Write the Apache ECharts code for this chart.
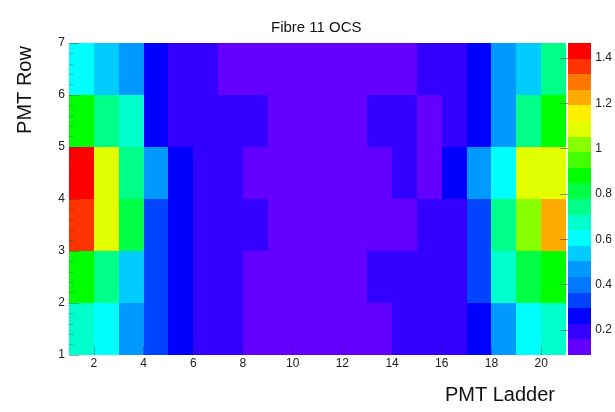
<!DOCTYPE html>
<html>
<head>
<meta charset="utf-8">
<script src="https://cdn.jsdelivr.net/npm/echarts@6/dist/echarts.min.js"></script>
<style>
  html, body { margin: 0; padding: 0; background: #ffffff; }
  #chart { width: 615px; height: 412px; }
</style>
</head>
<body>
<div id="chart"></div>
<script>
// ---- data ----
const ladders = [1,2,3,4,5,6,7,8,9,10,11,12,13,14,15,16,17,18,19,20];   // x bin low edges
const rows = [1,2,3,4,5,6];                                              // y bin low edges
const row1 = [0.67,0.61,0.47,0.33,0.26,0.19,0.19,0.12,0.12,0.12,0.12,0.12,0.12,0.19,0.19,0.19,0.26,0.47,0.61,0.67];
const row2 = [0.88,0.74,0.54,0.33,0.26,0.19,0.19,0.12,0.12,0.12,0.12,0.12,0.19,0.19,0.19,0.19,0.33,0.67,0.81,0.88];
const row3 = [1.36,1.09,0.81,0.33,0.26,0.19,0.19,0.19,0.12,0.12,0.12,0.12,0.12,0.12,0.19,0.19,0.33,0.74,1.02,1.23];
const row4 = [1.43,1.09,0.74,0.47,0.26,0.19,0.19,0.12,0.12,0.12,0.12,0.12,0.12,0.19,0.12,0.26,0.47,0.61,1.09,1.09];
const row5 = [0.88,0.74,0.67,0.26,0.19,0.19,0.19,0.19,0.12,0.12,0.12,0.12,0.19,0.19,0.12,0.19,0.26,0.47,0.74,0.88];
const row6 = [0.61,0.54,0.47,0.26,0.19,0.19,0.12,0.12,0.12,0.12,0.12,0.12,0.12,0.12,0.19,0.19,0.26,0.47,0.54,0.74];
const xTickLabels = [2,4,6,8,10,12,14,16,18,20];
const zTickLabels = [0.2,0.4,0.6,0.8,1.0,1.2,1.4];
const zMin = 0.09, zMax = 1.466, nLevels = 20;
const palette = ['#6400ff','#3300ff','#0000ff','#0044ff','#0077ff','#0099ff','#00ccff','#00ffff','#00ffcc','#00ff88',
                 '#00ff44','#00ff00','#44ff00','#88ff00','#e2ff00','#ffee00','#ffaa00','#ff7700','#ff3300','#ff0000'];

// ---- build ----
const allRows = [row1,row2,row3,row4,row5,row6];
const cells = [];
rows.forEach((r, j) => ladders.forEach((l, i) => cells.push([l, r, allRows[j][i]])));
const step = (zMax - zMin) / nLevels;
const pieces = [];
const bands = [];
for (let k = 0; k < nLevels; k++) {
  const lo = zMin + k * step, hi = zMin + (k + 1) * step;
  pieces.push(k === nLevels - 1 ? {gte: lo, lte: hi + 1, color: palette[k]} : {gte: lo, lt: hi, color: palette[k]});
  bands.push([lo, hi]);
}

const FONT = '"Liberation Sans", Arial, sans-serif';
const chart = echarts.init(document.getElementById('chart'), null, {renderer: 'canvas'});
chart.setOption({
  animation: false,
  backgroundColor: '#ffffff',
  title: {
    text: 'Fibre 11 OCS', left: 271, top: 20, padding: 0,
    textStyle: {fontFamily: FONT, fontSize: 15, fontWeight: 'normal', color: '#111'}
  },
  graphic: [
    {type: 'text', x: 25, y: 90, rotation: Math.PI / 2,
     style: {text: 'PMT Row', font: '20px ' + FONT, fill: '#111', align: 'center', verticalAlign: 'middle'}},
    {type: 'text', x: 500, y: 395,
     style: {text: 'PMT Ladder', font: '20px ' + FONT, fill: '#111', align: 'center', verticalAlign: 'middle'}}
  ],
  grid: [
    {left: 69, top: 43, width: 497, height: 312},
    {left: 568, top: 43, width: 29, height: 312}
  ],
  xAxis: [
    {gridIndex: 0, type: 'value', min: 1, max: 21, z: 10,
     axisLine: {show: false}, splitLine: {show: false},
     axisTick: {show: true, inside: true, length: 9, customValues: xTickLabels, lineStyle: {color: 'rgba(40,40,60,0.4)'}},
     axisLabel: {customValues: xTickLabels, margin: 3, fontFamily: FONT, fontSize: 12, color: '#222'}},
    {gridIndex: 1, type: 'value', min: 0, max: 1, show: false}
  ],
  yAxis: [
    {gridIndex: 0, type: 'value', min: 1, max: 7, interval: 1, z: 10,
     axisLine: {show: false}, splitLine: {show: false},
     axisTick: {show: true, inside: true, length: 10, lineStyle: {color: 'rgba(40,40,60,0.4)'}},
     minorTick: {show: true, splitNumber: 5, length: 5, lineStyle: {color: 'rgba(40,40,60,0.3)'}},
     axisLabel: {margin: 4, fontFamily: FONT, fontSize: 12, color: '#222'}},
    {gridIndex: 1, type: 'value', min: zMin, max: zMax, position: 'right', z: 10,
     axisLine: {show: false}, splitLine: {show: false},
     axisTick: {show: true, inside: true, length: 8, customValues: zTickLabels, lineStyle: {color: 'rgba(40,40,60,0.5)'}},
     axisLabel: {customValues: zTickLabels, margin: 4, fontFamily: FONT, fontSize: 12, color: '#222',
                 formatter: v => String(Math.round(v * 10) / 10)}}
  ],
  visualMap: {type: 'piecewise', show: false, dimension: 2, seriesIndex: 0, pieces: pieces},
  series: [
    {
      type: 'custom', xAxisIndex: 0, yAxisIndex: 0, data: cells, encode: {x: 0, y: 1},
      renderItem: function (params, api) {
        const x = api.value(0), y = api.value(1);
        const p0 = api.coord([x, y + 1]);
        const p1 = api.coord([x + 1, y]);
        const x0 = Math.round(p0[0]), y0 = Math.round(p0[1]);
        const x1 = Math.round(p1[0]), y1 = Math.round(p1[1]);
        return {type: 'rect', shape: {x: x0, y: y0, width: x1 - x0, height: y1 - y0},
                style: {fill: api.visual('color')}};
      }
    },
    {
      type: 'custom', xAxisIndex: 1, yAxisIndex: 1, data: bands, encode: {y: [0, 1]},
      renderItem: function (params, api) {
        const p0 = api.coord([0, api.value(1)]);
        const p1 = api.coord([1, api.value(0)]);
        const x0 = Math.round(p0[0]), y0 = Math.round(p0[1]);
        const x1 = Math.round(p1[0]), y1 = Math.round(p1[1]);
        return {type: 'rect', shape: {x: x0, y: y0, width: x1 - x0, height: y1 - y0},
                style: {fill: palette[params.dataIndex]}};
      }
    }
  ]
});
</script>
</body>
</html>
